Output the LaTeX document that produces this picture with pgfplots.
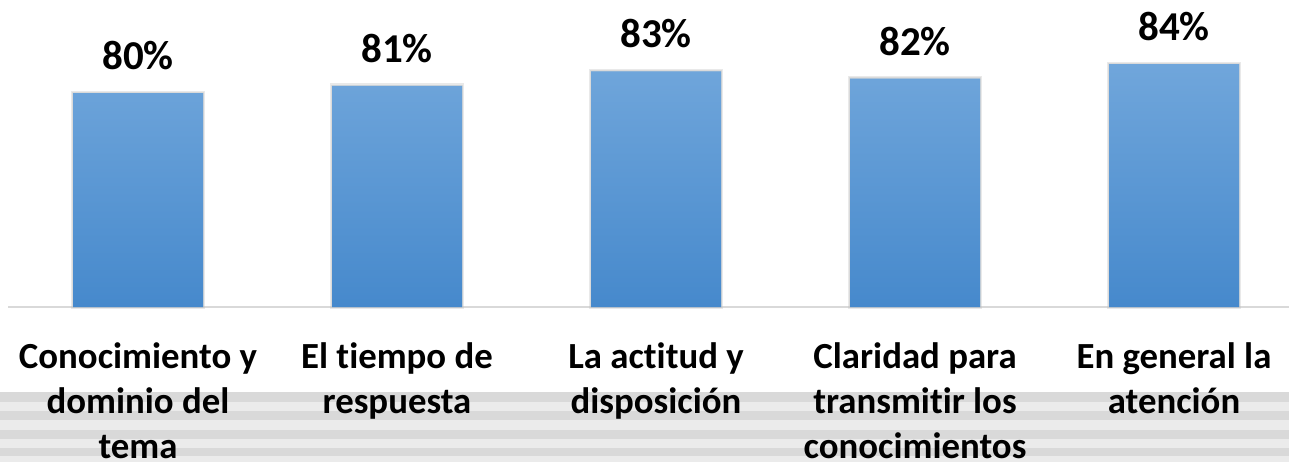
\documentclass[border=0pt]{standalone}
\usepackage{pgfplots}
\pgfplotsset{compat=1.18}
\usepackage{fontspec}
\setmainfont{Carlito}[RawFeature=-liga]
\usetikzlibrary{backgrounds}
\definecolor{bartop}{RGB}{112,166,219}
\definecolor{barbot}{RGB}{70,137,204}
\definecolor{stripelight}{RGB}{235,235,235}
\definecolor{stripedark}{RGB}{217,217,217}
\definecolor{axline}{RGB}{217,217,217}
\begin{document}
\begin{tikzpicture}
\path[use as bounding box] (0,0) rectangle (644.5pt,231pt);
\begin{scope}[on background layer]
\fill[stripelight] (0,0) rectangle (644.5pt,35pt);
\fill[stripedark] (0,30pt) rectangle (644.5pt,35pt);
\fill[stripedark] (0,21pt) rectangle (644.5pt,25.5pt);
\fill[stripedark] (0,11.5pt) rectangle (644.5pt,16pt);
\fill[stripedark] (0,3pt) rectangle (644.5pt,7pt);
\end{scope}
\begin{axis}[
  at={(4.25pt,77.5pt)}, anchor=south west,
  scale only axis, width=640.25pt, height=153.5pt,
  xmin=-0.5, xmax=4.444, ymin=50.5, ymax=92.84,
  axis y line=none, axis x line=bottom,
  x axis line style={-, color=axline, line width=1.2pt},
  xtick=data, major tick length=0pt,
  xticklabels={{\vphantom{l}Conocimiento y\\dominio del\\tema},{El tiempo de\\respuesta},{La actitud y\\disposición},{Claridad para\\transmitir los\\conocimientos},{En general la\\atención}},
  xticklabel style={align=center, anchor=north, inner sep=0pt, yshift=-17.8pt,
    font=\bfseries\fontsize{18.4}{22.5}\selectfont},
  clip=false,
  /pgf/number format/assume math mode=true,
  ybar, bar width=65pt,
  nodes near coords={\pgfmathprintnumber[fixed,precision=0,assume math mode=true]{\pgfplotspointmeta}\%},
  every node near coord/.append style={font=\bfseries\fontsize{20.5}{24}\selectfont, anchor=south, inner sep=0pt, text depth=0pt, yshift=11.5pt},
]
\addplot[draw=none, top color=bartop, bottom color=barbot,
  preaction={draw=black!25, line width=2.4pt, opacity=0.35},
  preaction={draw=black!20, line width=1.2pt, opacity=0.5}]
  coordinates {(0,80) (1,81) (2,83) (3,82) (4,84)};
\end{axis}
\end{tikzpicture}
\end{document}
